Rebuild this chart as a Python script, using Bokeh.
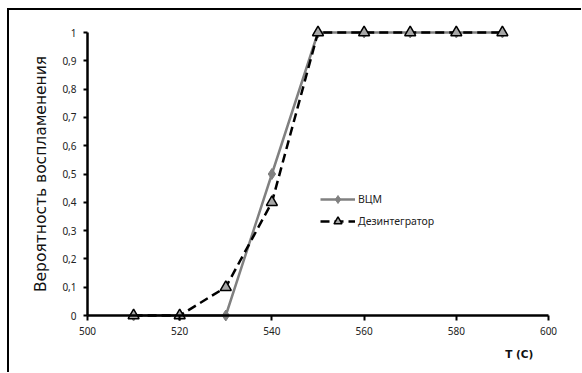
from bokeh.plotting import figure
from bokeh.models import FixedTicker, Legend, LegendItem, Label
from bokeh.embed import file_html
from bokeh.resources import INLINE

# Data
temps = [510, 520, 530, 540, 550, 560, 570, 580, 590]
vcm = [0, 0, 0, 0.5, 1, 1, 1, 1, 1]
dez = [0, 0, 0.1, 0.4, 1, 1, 1, 1, 1]
series_names = ["ВЦМ", "Дезинтегратор"]
x_ticks = [500, 520, 540, 560, 580, 600]
y_ticks = [0, 0.1, 0.2, 0.3, 0.4, 0.5, 0.6, 0.7, 0.8, 0.9, 1.0]
y_tick_labels = ["0", "0,1", "0,2", "0,3", "0,4", "0,5", "0,6", "0,7", "0,8", "0,9", "1"]
y_label = "Вероятность воспламенения"
x_label = "T (C)"

# pixel layout of the drawing area (whole canvas is the frame; axes are placed at x=500 / y=0)
px_x = 4.61      # pixels per degree
px_y = 283.0     # pixels per probability unit
W, H = 572, 362
x_lo = 500 - 78 / px_x
x_hi = 600 + (W - 78 - 461) / px_x
y_hi = 1 + 22 / px_y
y_lo = -(H - 22 - 283) / px_y

p = figure(frame_width=W, frame_height=H,
           x_range=(x_lo, x_hi), y_range=(y_lo, y_hi),
           min_border_left=0, min_border_right=0, min_border_top=0, min_border_bottom=0,
           output_backend="svg", toolbar_location=None,
           styles={"margin-left": "7px", "margin-top": "8px",
                   "border-top": "2px solid black", "border-left": "2px solid black"})
p.outline_line_color = None
p.border_fill_color = "white"
p.grid.visible = False

font = "Noto Sans"
tick_color = "#222222"

xa = p.xaxis[0]
xa.fixed_location = 0
xa.bounds = (500, 600)
xa.ticker = FixedTicker(ticks=x_ticks)
xa.axis_line_width = 2.5
xa.axis_line_color = "black"
xa.major_tick_line_width = 2
xa.major_tick_line_color = "black"
xa.major_tick_in = 0
xa.major_tick_out = 5
xa.minor_tick_line_color = None
xa.major_label_text_font = font
xa.major_label_text_font_size = "10px"
xa.major_label_text_color = tick_color
xa.major_label_standoff = 6

ya = p.yaxis[0]
ya.fixed_location = 500
ya.bounds = (0, 1)
ya.ticker = FixedTicker(ticks=y_ticks)
ya.major_label_overrides = {t: l for t, l in zip(y_ticks, y_tick_labels)}
ya.axis_line_width = 2.5
ya.axis_line_color = "black"
ya.major_tick_line_width = 2
ya.major_tick_out = 4
ya.major_tick_in = 0
ya.minor_tick_line_color = None
ya.major_label_text_font = font
ya.major_label_text_font_size = "10px"
ya.major_label_text_color = tick_color
ya.major_label_standoff = 7
ya.axis_label = y_label
ya.axis_label_text_font = "DejaVu Sans"
ya.axis_label_text_font_size = "15.5px"
ya.axis_label_text_font_style = "normal"
ya.axis_label_text_color = "#111111"
ya.axis_label_standoff = 9

r1l = p.line(temps, vcm, line_color="#808080", line_width=2.5)
r1m = p.scatter(temps, vcm, marker="diamond", size=11, fill_color="#808080", line_color="#808080")
r2l = p.line(temps, dez, line_color="black", line_width=2.5, line_dash="9 5")
r2m = p.scatter(temps, dez, marker="triangle", size=11, fill_color="#a6a6a6",
                line_color="black", line_width=1.5)

legend = Legend(items=[LegendItem(label=series_names[0], renderers=[r1l, r1m]),
                       LegendItem(label=series_names[1], renderers=[r2l, r2m])],
                location=(311, 141), padding=0, margin=0, spacing=2,
                glyph_width=35, glyph_height=20, label_standoff=3,
                label_text_font=font, label_text_font_size="10.5px",
                label_text_color=tick_color,
                border_line_color=None, background_fill_alpha=0)
p.add_layout(legend, "center")

p.add_layout(Label(x=596.7, y=-38 / px_y, text=x_label, text_font="DejaVu Sans",
                   text_font_size="10.5px", text_font_style="bold",
                   text_align="right", text_baseline="middle", text_color="#111111"))

open("out.html", "w").write(file_html(p, INLINE))
